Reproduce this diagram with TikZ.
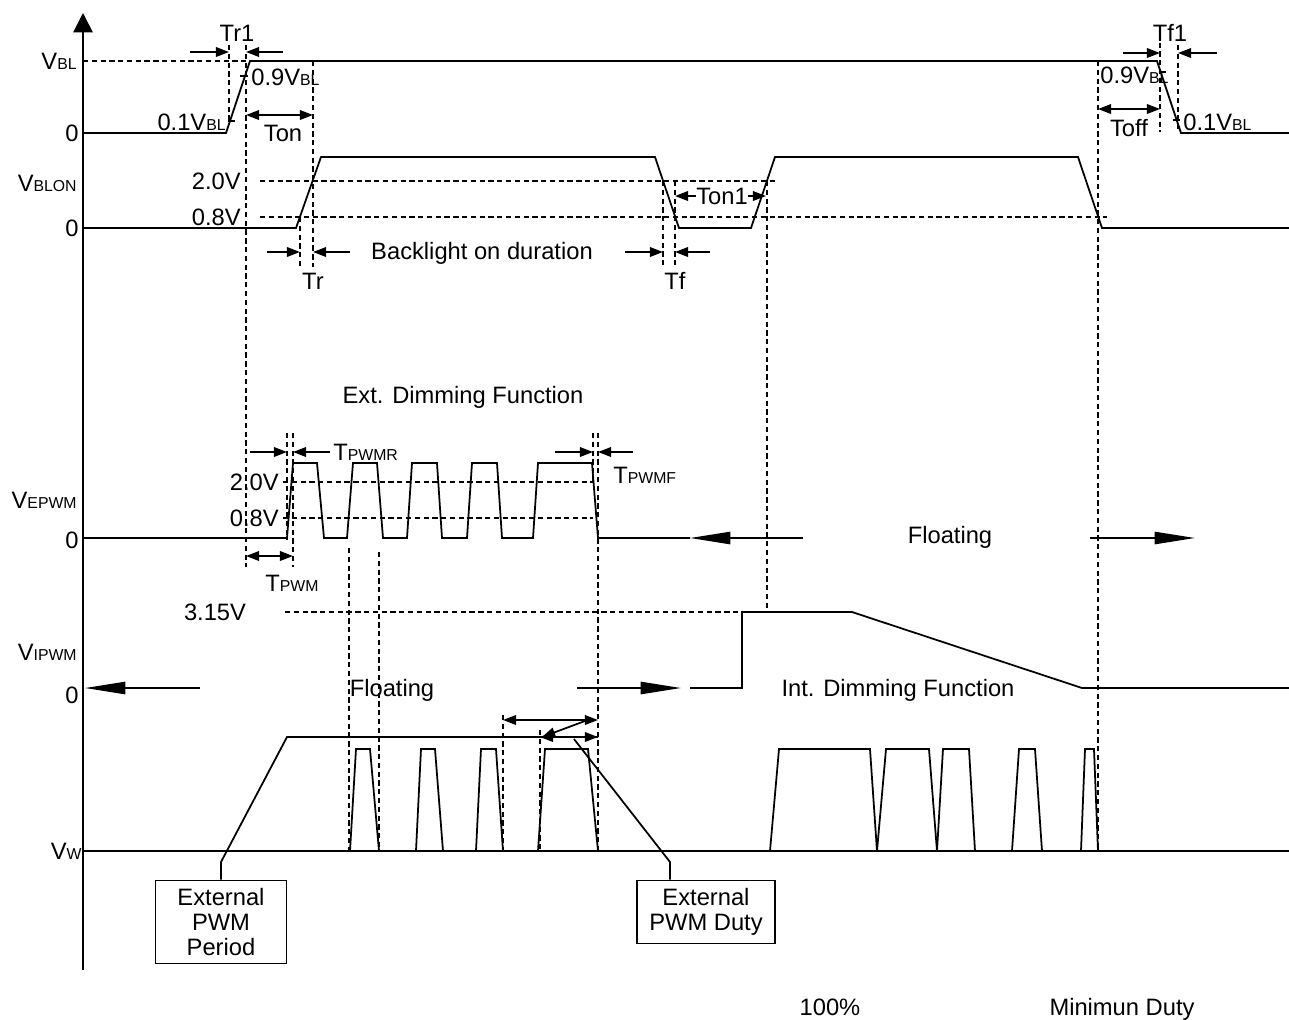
\documentclass[tikz,border=0pt]{standalone}
\usepackage{fontspec}
\setmainfont{Liberation Sans}
\usepackage{tikz}
\usetikzlibrary{arrows.meta}
\newcommand\lo[1]{{\fontsize{9}{10}\selectfont #1}}

\begin{document}
\begin{tikzpicture}[
 x=0.02cm, y=-0.02cm,
 sig/.style={line width=1pt},
 g/.style={line width=0.8pt,dash pattern=on 3pt off 2pt},
 t/.style={inner sep=0pt,font=\fontsize{13.5}{15}\selectfont},
 a/.style={-{Triangle[length=7.5pt,width=5.5pt]},line width=1pt},
 aa/.style={{Triangle[length=7.5pt,width=5.5pt]}-{Triangle[length=7.5pt,width=5.5pt]},line width=1pt},
 fa/.style={-{Triangle[length=23pt,width=7pt]},line width=1pt},
 cb/.style={draw,line width=1pt,align=center,inner sep=2pt,font=\fontsize{13.5}{14.5}\selectfont}
]
\useasboundingbox (0,0) rectangle (1289,1019);
\draw[-{Triangle[length=11pt,width=11pt]},line width=1pt] (83,970) -- (83,13);

\node[t,anchor=east] (vbl) at (77,61) {V\lo{BL}};
\node[t,anchor=east] (z1) at (79,133) {0};
\node[t,anchor=east] (vblon) at (77,183) {V\lo{BLON}};
\node[t,anchor=east] (z2) at (79,228) {0};
\node[t,anchor=east] (vepwm) at (77,500) {V\lo{EPWM}};
\node[t,anchor=east] (z3) at (79,540) {0};
\node[t,anchor=east] (vipwm) at (77,652) {V\lo{IPWM}};
\node[t,anchor=east] (z4) at (79,695) {0};
\node[t,anchor=east] (vw) at (82,851) {V\lo{W}};

\draw[sig] (83,133) -- (226,133) -- (250,61) -- (1157,61) -- (1181,133) -- (1289,133);
\draw[g] (83,61) -- (250,61);
\draw[g] (229,45) -- (229,125);
\draw[g] (246,45) -- (246,567);
\draw[a] (190,52) -- (229,52);
\draw[a] (283,52) -- (246,52);
\node[t] (tr1) at (237,33) {Tr1};
\draw[sig] (228,121) -- (235,121);
\node[t,anchor=east] (p1a) at (226,122) {0.1V\lo{BL}};
\draw[sig] (240,76) -- (248,76);
\node[t,anchor=west] (p9a) at (251,77) {0.9V\lo{BL}};
\draw[g] (313,61) -- (313,267);
\draw[aa] (246,115) -- (313,115);
\node[t] (ton) at (283,133) {Ton};

\draw[g] (1160,25) -- (1160,132);
\draw[g] (1178,45) -- (1178,132);
\draw[a] (1123,53) -- (1160,53);
\draw[a] (1217,53) -- (1178,53);
\node[t] (tf1) at (1170,33) {Tf1};
\node[t,anchor=west] (p9b) at (1100,75) {0.9V\lo{BL}};
\draw[sig] (1160,72) -- (1166,72);
\draw[sig] (1173,120) -- (1180,120);
\node[t,anchor=west] (p1b) at (1183,122) {0.1V\lo{BL}};
\draw[aa] (1098,109) -- (1160,109);
\node[t] (toff) at (1129,128) {Toff};

\draw[sig] (83,228) -- (296,228) -- (321,157) -- (655,157) -- (679,228) -- (751,228) -- (775,157) -- (1078,157) -- (1102,228) -- (1289,228);
\node[t,anchor=east] (v20a) at (241,181) {2.0V};
\node[t,anchor=east] (v08a) at (241,217) {0.8V};
\draw[g] (260,181) -- (775,181);
\draw[g] (260,217) -- (1107,217);
\draw[g] (300,217) -- (300,267);
\draw[g] (663,181) -- (663,267);
\draw[g] (675,181) -- (675,267);
\draw[g] (767,181) -- (767,612);
\draw[g] (1098,61) -- (1098,851);
\draw[a] (267,252) -- (300,252);
\draw[a] (350,252) -- (313,252);
\node[t] (tr) at (313,281) {Tr};
\node[t] (bld) at (482,253) {Backlight on duration};
\draw[a] (625,252) -- (663,252);
\draw[a] (710,252) -- (675,252);
\node[t] (tf) at (675,281) {Tf};
\node[t] (ton1) at (722,196) {Ton1};
\draw[a] (ton1.west) -- (675,196);
\draw[a] (ton1.east) -- (766,196);

\node[t] (ext) at (463,397) {Ext. Dimming Function};
\draw[sig] (83,538) -- (287,538) -- (293,463) -- (317,463) -- (324,538) -- (347,538) -- (353,463) -- (377,463) -- (383,538) -- (407,538) -- (412,463) -- (437,463) -- (442,538) -- (467,538) -- (472,463) -- (497,463) -- (502,538) -- (533,538) -- (538,463) -- (592,463) -- (598,538) -- (690,538);
\node[t,anchor=east] (v20b) at (279,482) {2.0V};
\node[t,anchor=east] (v08b) at (279,518) {0.8V};
\draw[g] (283,482) -- (593,482);
\draw[g] (283,518) -- (593,518);
\draw[g] (287,433) -- (287,540);
\draw[g] (293,433) -- (293,567);
\draw[g] (593,433) -- (593,483);
\draw[g] (598,433) -- (598,851);
\draw[g] (349,548) -- (349,851);
\draw[g] (379,552) -- (379,851);
\draw[a] (250,452) -- (287,452);
\draw[a] (330,452) -- (293,452);
\node[t,anchor=west] (tpr) at (333,452) {T\lo{PWMR}};
\draw[a] (555,452) -- (593,452);
\draw[a] (633,452) -- (598,452);
\node[t,anchor=west] (tpf) at (613,475) {T\lo{PWMF}};
\draw[aa] (246,556) -- (293,556);
\node[t] (tpwm) at (292,583) {T\lo{PWM}};
\draw[fa] (803,538) -- (690,538);
\node[t] (fl1) at (950,537) {Floating};
\draw[fa] (1090,538) -- (1195,538);

\node[t] (v315) at (215,612) {3.15V};
\draw[g] (285,612) -- (767,612);
\draw[sig] (690,688) -- (742,688) -- (742,612) -- (852,612) -- (1082,688) -- (1289,688);
\draw[fa] (200,688) -- (85,688);
\node[t] (fl2) at (392,690) {Floating};
\draw[fa] (577,688) -- (681,688);
\node[t] (idf) at (898,690) {Int. Dimming Function};

\draw[sig] (83,851) -- (1289,851);
\foreach \p/\q/\r/\s in {350/356/370/379,416/421/435/443,476/481/496/503,538/545/588/598,770/779/870/877,877/886/929/937,937/943/969/975,1012/1019/1035/1042,1081/1085/1094/1098}
  \draw[sig] (\p,851) -- (\q,749) -- (\r,749) -- (\s,851);
\draw[g] (503,715) -- (503,851);
\draw[g] (540,730) -- (540,851);
\draw[aa] (503,720) -- (598,720);
\draw[aa] (540,737) -- (598,737);
\draw[a] (585,721) -- (542,737);

\node[cb,minimum width=2.62cm,minimum height=1.66cm] (pbox) at (221,922) {External\\PWM\\Period};
\node[cb,minimum width=2.76cm,minimum height=1.26cm] (dbox) at (706,912) {External\\PWM Duty};
\draw[sig] (598,737) -- (287,737) -- (221,862) -- (pbox.north);
\coordinate (dk) at (670,862);
\draw[sig] (574,739) -- (dk) -- (dk |- dbox.north);

\node[t,anchor=base] (full) at (830,1015) {100\%};
\node[t,anchor=base] (mind) at (1122,1015) {Minimun Duty};
\end{tikzpicture}
\end{document}
